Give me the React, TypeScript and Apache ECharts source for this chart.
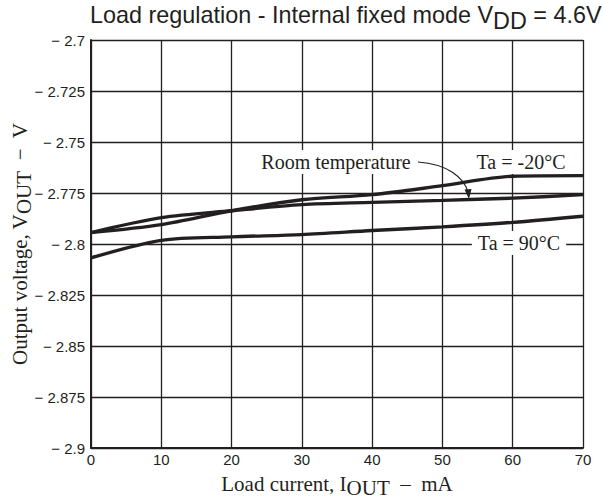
import React, { useEffect, useRef } from "react";
import * as echarts from "echarts";

const xValues = [0, 10, 20, 30, 40, 50, 60, 70];
const ta20 = [-2.7944, -2.7905, -2.7837, -2.7783, -2.7758, -2.7714, -2.7668, -2.7665];
const roomTemp = [-2.7944, -2.7871, -2.7837, -2.7807, -2.7796, -2.7786, -2.7775, -2.7758];
const ta90 = [-2.8068, -2.7982, -2.7965, -2.7954, -2.7934, -2.7916, -2.7894, -2.7864];

const INK = "#231f20";
const SERIF = "'Liberation Serif', 'Times New Roman', serif";
const SANS = "'Liberation Sans', Arial, sans-serif";

const toPairs = (ys: number[]) => xValues.map((x, i) => [x, ys[i]]);

export default function App() {
  const ref = useRef<HTMLDivElement>(null);
  useEffect(() => {
    document.body.style.margin = "0";
    if (!ref.current) return;
    const chart = echarts.init(ref.current, undefined, { renderer: "svg" });
    const lineSeries = (name: string, ys: number[]) => ({
      name,
      type: "line",
      data: toPairs(ys),
      smooth: 0.3,
      showSymbol: false,
      lineStyle: { color: INK, width: 3.4 },
    });
    const labelStyle = {
      fontFamily: SERIF,
      fontSize: 20,
      fill: INK,
      backgroundColor: "#fff",
      padding: [2, 4, 2, 4],
      align: "center",
      verticalAlign: "middle",
    };
    const nameRich = {
      n: { fontFamily: SERIF, fontSize: 21, fontWeight: "normal", color: INK, verticalAlign: "top", lineHeight: 22 },
      s: { fontFamily: SERIF, fontSize: 21, fontWeight: "normal", color: INK, verticalAlign: "top", lineHeight: 22, padding: [4, 0, 0, 0] },
    };
    chart.setOption({
      animation: false,
      backgroundColor: "#fff",
      title: {
        text: "{n|Load regulation - Internal fixed mode V}{s|DD}{n| = 4.6V}",
        left: 85,
        top: -2,
        textStyle: {
          fontWeight: "normal",
          rich: {
            n: { fontFamily: SANS, fontSize: 23.4, fontWeight: "normal", color: INK, verticalAlign: "top", lineHeight: 25 },
            s: { fontFamily: SANS, fontSize: 23.4, fontWeight: "normal", color: INK, verticalAlign: "top", lineHeight: 25, padding: [6, 0, 0, 0] },
          },
        },
      },
      grid: { left: 91, right: 20, top: 40, bottom: 51, containLabel: false, outerBoundsMode: "none" },
      xAxis: {
        type: "value",
        min: 0,
        max: 70,
        interval: 10,
        name: "{n|Load current, I}{s|OUT}{n|  –  mA}",
        nameLocation: "middle",
        nameGap: 25,
        nameMoveOverlap: false,
        nameTextStyle: { rich: nameRich },
        axisLine: { show: true, lineStyle: { color: INK, width: 2 } },
        axisTick: { show: false },
        axisLabel: { fontFamily: SANS, fontSize: 15, color: INK, margin: 4 },
        splitLine: { show: true, lineStyle: { color: INK, width: 1.3 } },
      },
      yAxis: {
        type: "value",
        min: -2.9,
        max: -2.7,
        interval: 0.025,
        name: "{n|Output voltage, V}{s|OUT}{n|  −  V}",
        nameLocation: "middle",
        nameRotate: 90,
        nameGap: 60,
        nameMoveOverlap: false,
        nameTextStyle: { rich: nameRich },
        axisLine: { show: true, lineStyle: { color: INK, width: 2 } },
        axisTick: { show: false },
        axisLabel: {
          fontFamily: SANS,
          fontSize: 15,
          color: INK,
          margin: 6,
          formatter: (v: number) => "\u2212 " + parseFloat(Math.abs(v).toFixed(3)).toString(),
        },
        splitLine: { show: true, lineStyle: { color: INK, width: 1.3 } },
      },
      series: [lineSeries("Ta = -20°C", ta20), lineSeries("Room temperature", roomTemp), lineSeries("Ta = 90°C", ta90)],
      graphic: [
        { type: "text", x: 336, y: 162, z: 100, style: { ...labelStyle, text: "Room temperature" } },
        { type: "text", x: 521, y: 162, z: 100, style: { ...labelStyle, text: "Ta = -20°C" } },
        { type: "text", x: 519, y: 243, z: 100, style: { ...labelStyle, text: "Ta = 90°C", padding: [2, 6, 2, 6] } },
        {
          type: "bezierCurve",
          z: 101,
          shape: { x1: 418, y1: 162, cpx1: 448, cpy1: 164, cpx2: 464, cpy2: 178, x2: 468, y2: 192 },
          style: { stroke: INK, lineWidth: 1.2, fill: "none" },
        },
        {
          type: "polygon",
          z: 101,
          shape: { points: [[469, 199], [464.5, 189.5], [471.5, 189]] },
          style: { fill: INK },
        },
      ],
    });
    return () => chart.dispose();
  }, []);
  return <div ref={ref} style={{ width: 603, height: 499 }} />;
}
